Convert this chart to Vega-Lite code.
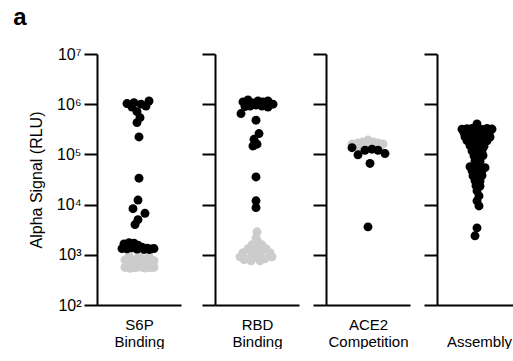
{
  "$schema": "https://vega.github.io/schema/vega-lite/v6.json",
  "padding": {"left": 13, "top": 6, "right": 0, "bottom": 0},
  "title": {"text": "a", "anchor": "start", "frame": "bounds", "fontSize": 24, "fontWeight": "bold", "font": "Liberation Sans", "color": "black", "dx": -15, "offset": 16},
  "config": {
    "font": "Liberation Sans",
    "view": {"stroke": null},
    "axis": {"domainColor": "black", "domainWidth": 2, "tickColor": "black", "tickWidth": 2, "grid": false, "labelColor": "black", "titleColor": "black", "labelFont": "Liberation Sans", "titleFont": "Liberation Sans", "titleFontWeight": "normal"}
  },
  "datasets": {
    "swarm": [
      {"assay": "S6P", "group": "background", "swarm": -14, "rlu": 790},
      {"assay": "S6P", "group": "background", "swarm": -9, "rlu": 780},
      {"assay": "S6P", "group": "background", "swarm": -4, "rlu": 800},
      {"assay": "S6P", "group": "background", "swarm": 1, "rlu": 770},
      {"assay": "S6P", "group": "background", "swarm": 6, "rlu": 810},
      {"assay": "S6P", "group": "background", "swarm": 11, "rlu": 790},
      {"assay": "S6P", "group": "background", "swarm": 15, "rlu": 760},
      {"assay": "S6P", "group": "background", "swarm": -12, "rlu": 660},
      {"assay": "S6P", "group": "background", "swarm": -7, "rlu": 650},
      {"assay": "S6P", "group": "background", "swarm": -2, "rlu": 680},
      {"assay": "S6P", "group": "background", "swarm": 3, "rlu": 640},
      {"assay": "S6P", "group": "background", "swarm": 8, "rlu": 670},
      {"assay": "S6P", "group": "background", "swarm": 13, "rlu": 650},
      {"assay": "S6P", "group": "background", "swarm": -14, "rlu": 560},
      {"assay": "S6P", "group": "background", "swarm": -9, "rlu": 540},
      {"assay": "S6P", "group": "background", "swarm": -4, "rlu": 550},
      {"assay": "S6P", "group": "background", "swarm": 1, "rlu": 570},
      {"assay": "S6P", "group": "background", "swarm": 6, "rlu": 545},
      {"assay": "S6P", "group": "background", "swarm": 11, "rlu": 555},
      {"assay": "S6P", "group": "background", "swarm": 15, "rlu": 560},
      {"assay": "S6P", "group": "background", "swarm": -10, "rlu": 950},
      {"assay": "S6P", "group": "background", "swarm": 0, "rlu": 980},
      {"assay": "S6P", "group": "background", "swarm": 10, "rlu": 940},
      {"assay": "S6P", "group": "hit", "swarm": -15, "rlu": 1650},
      {"assay": "S6P", "group": "hit", "swarm": -10, "rlu": 1750},
      {"assay": "S6P", "group": "hit", "swarm": -5, "rlu": 1700},
      {"assay": "S6P", "group": "hit", "swarm": -1, "rlu": 1550},
      {"assay": "S6P", "group": "hit", "swarm": 3, "rlu": 1420},
      {"assay": "S6P", "group": "hit", "swarm": 8, "rlu": 1350},
      {"assay": "S6P", "group": "hit", "swarm": 12, "rlu": 1300},
      {"assay": "S6P", "group": "hit", "swarm": 15, "rlu": 1330},
      {"assay": "S6P", "group": "hit", "swarm": -17, "rlu": 1330},
      {"assay": "S6P", "group": "hit", "swarm": -12, "rlu": 1320},
      {"assay": "S6P", "group": "hit", "swarm": -7, "rlu": 1380},
      {"assay": "S6P", "group": "hit", "swarm": -2, "rlu": 1300},
      {"assay": "S6P", "group": "hit", "swarm": 5, "rlu": 1280},
      {"assay": "S6P", "group": "hit", "swarm": 10, "rlu": 1280},
      {"assay": "S6P", "group": "hit", "swarm": -1, "rlu": 12300},
      {"assay": "S6P", "group": "hit", "swarm": -6, "rlu": 8300},
      {"assay": "S6P", "group": "hit", "swarm": 6, "rlu": 6700},
      {"assay": "S6P", "group": "hit", "swarm": -1, "rlu": 5000},
      {"assay": "S6P", "group": "hit", "swarm": -4, "rlu": 4000},
      {"assay": "S6P", "group": "hit", "swarm": -12, "rlu": 1030000},
      {"assay": "S6P", "group": "hit", "swarm": -5, "rlu": 1070000},
      {"assay": "S6P", "group": "hit", "swarm": 2, "rlu": 1000000},
      {"assay": "S6P", "group": "hit", "swarm": 10, "rlu": 1160000},
      {"assay": "S6P", "group": "hit", "swarm": 7, "rlu": 920000},
      {"assay": "S6P", "group": "hit", "swarm": -7, "rlu": 880000},
      {"assay": "S6P", "group": "hit", "swarm": -2, "rlu": 710000},
      {"assay": "S6P", "group": "hit", "swarm": 1, "rlu": 540000},
      {"assay": "S6P", "group": "hit", "swarm": -2, "rlu": 430000},
      {"assay": "S6P", "group": "hit", "swarm": 0, "rlu": 223000},
      {"assay": "S6P", "group": "hit", "swarm": 0, "rlu": 33600},

      {"assay": "RBD", "group": "background", "swarm": 0, "rlu": 2870},
      {"assay": "RBD", "group": "background", "swarm": -1, "rlu": 2180},
      {"assay": "RBD", "group": "background", "swarm": 1, "rlu": 1820},
      {"assay": "RBD", "group": "background", "swarm": -5, "rlu": 1580},
      {"assay": "RBD", "group": "background", "swarm": 5, "rlu": 1580},
      {"assay": "RBD", "group": "background", "swarm": -9, "rlu": 1320},
      {"assay": "RBD", "group": "background", "swarm": -1, "rlu": 1350},
      {"assay": "RBD", "group": "background", "swarm": 9, "rlu": 1320},
      {"assay": "RBD", "group": "background", "swarm": -14, "rlu": 1100},
      {"assay": "RBD", "group": "background", "swarm": -5, "rlu": 1120},
      {"assay": "RBD", "group": "background", "swarm": 4, "rlu": 1110},
      {"assay": "RBD", "group": "background", "swarm": 13, "rlu": 1100},
      {"assay": "RBD", "group": "background", "swarm": -17, "rlu": 910},
      {"assay": "RBD", "group": "background", "swarm": -10, "rlu": 830},
      {"assay": "RBD", "group": "background", "swarm": -1, "rlu": 900},
      {"assay": "RBD", "group": "background", "swarm": 8, "rlu": 830},
      {"assay": "RBD", "group": "background", "swarm": 15, "rlu": 910},
      {"assay": "RBD", "group": "background", "swarm": -6, "rlu": 760},
      {"assay": "RBD", "group": "background", "swarm": 3, "rlu": 760},
      {"assay": "RBD", "group": "background", "swarm": -13, "rlu": 800},
      {"assay": "RBD", "group": "hit", "swarm": -14, "rlu": 1110000},
      {"assay": "RBD", "group": "hit", "swarm": -9, "rlu": 1220000},
      {"assay": "RBD", "group": "hit", "swarm": -4, "rlu": 1060000},
      {"assay": "RBD", "group": "hit", "swarm": 1, "rlu": 1160000},
      {"assay": "RBD", "group": "hit", "swarm": 6, "rlu": 1110000},
      {"assay": "RBD", "group": "hit", "swarm": 11, "rlu": 1160000},
      {"assay": "RBD", "group": "hit", "swarm": 16, "rlu": 1000000},
      {"assay": "RBD", "group": "hit", "swarm": -7, "rlu": 920000},
      {"assay": "RBD", "group": "hit", "swarm": -1, "rlu": 960000},
      {"assay": "RBD", "group": "hit", "swarm": 5, "rlu": 920000},
      {"assay": "RBD", "group": "hit", "swarm": 11, "rlu": 880000},
      {"assay": "RBD", "group": "hit", "swarm": -12, "rlu": 900000},
      {"assay": "RBD", "group": "hit", "swarm": -16, "rlu": 650000},
      {"assay": "RBD", "group": "hit", "swarm": -1, "rlu": 480000},
      {"assay": "RBD", "group": "hit", "swarm": 2, "rlu": 260000},
      {"assay": "RBD", "group": "hit", "swarm": -3, "rlu": 200000},
      {"assay": "RBD", "group": "hit", "swarm": 0, "rlu": 160000},
      {"assay": "RBD", "group": "hit", "swarm": -4, "rlu": 147000},
      {"assay": "RBD", "group": "hit", "swarm": -1, "rlu": 35600},
      {"assay": "RBD", "group": "hit", "swarm": -1, "rlu": 11900},
      {"assay": "RBD", "group": "hit", "swarm": -1, "rlu": 8700},

      {"assay": "ACE2", "group": "background", "swarm": -16, "rlu": 162000},
      {"assay": "ACE2", "group": "background", "swarm": -10, "rlu": 168000},
      {"assay": "ACE2", "group": "background", "swarm": -5, "rlu": 177000},
      {"assay": "ACE2", "group": "background", "swarm": 0, "rlu": 193000},
      {"assay": "ACE2", "group": "background", "swarm": 5, "rlu": 177000},
      {"assay": "ACE2", "group": "background", "swarm": 10, "rlu": 168000},
      {"assay": "ACE2", "group": "background", "swarm": 15, "rlu": 162000},
      {"assay": "ACE2", "group": "background", "swarm": -8, "rlu": 141000},
      {"assay": "ACE2", "group": "background", "swarm": 2, "rlu": 145000},
      {"assay": "ACE2", "group": "background", "swarm": 12, "rlu": 141000},
      {"assay": "ACE2", "group": "hit", "swarm": -16, "rlu": 136000},
      {"assay": "ACE2", "group": "hit", "swarm": -10, "rlu": 98000},
      {"assay": "ACE2", "group": "hit", "swarm": -3, "rlu": 121000},
      {"assay": "ACE2", "group": "hit", "swarm": 4, "rlu": 127000},
      {"assay": "ACE2", "group": "hit", "swarm": 10, "rlu": 121000},
      {"assay": "ACE2", "group": "hit", "swarm": 17, "rlu": 104000},
      {"assay": "ACE2", "group": "hit", "swarm": 2, "rlu": 66000},
      {"assay": "ACE2", "group": "hit", "swarm": 0, "rlu": 3600},

      {"assay": "Assembly", "group": "hit", "swarm": -2, "rlu": 405000},
      {"assay": "Assembly", "group": "hit", "swarm": -17, "rlu": 318000},
      {"assay": "Assembly", "group": "hit", "swarm": -12, "rlu": 325000},
      {"assay": "Assembly", "group": "hit", "swarm": -7, "rlu": 330000},
      {"assay": "Assembly", "group": "hit", "swarm": -2, "rlu": 322000},
      {"assay": "Assembly", "group": "hit", "swarm": 3, "rlu": 315000},
      {"assay": "Assembly", "group": "hit", "swarm": 8, "rlu": 328000},
      {"assay": "Assembly", "group": "hit", "swarm": 13, "rlu": 320000},
      {"assay": "Assembly", "group": "hit", "swarm": -15, "rlu": 270000},
      {"assay": "Assembly", "group": "hit", "swarm": -10, "rlu": 262000},
      {"assay": "Assembly", "group": "hit", "swarm": -5, "rlu": 275000},
      {"assay": "Assembly", "group": "hit", "swarm": 0, "rlu": 265000},
      {"assay": "Assembly", "group": "hit", "swarm": 5, "rlu": 268000},
      {"assay": "Assembly", "group": "hit", "swarm": 10, "rlu": 260000},
      {"assay": "Assembly", "group": "hit", "swarm": -14, "rlu": 225000},
      {"assay": "Assembly", "group": "hit", "swarm": -9, "rlu": 220000},
      {"assay": "Assembly", "group": "hit", "swarm": -4, "rlu": 228000},
      {"assay": "Assembly", "group": "hit", "swarm": 1, "rlu": 218000},
      {"assay": "Assembly", "group": "hit", "swarm": 6, "rlu": 224000},
      {"assay": "Assembly", "group": "hit", "swarm": 11, "rlu": 222000},
      {"assay": "Assembly", "group": "hit", "swarm": -12, "rlu": 188000},
      {"assay": "Assembly", "group": "hit", "swarm": -7, "rlu": 184000},
      {"assay": "Assembly", "group": "hit", "swarm": -2, "rlu": 190000},
      {"assay": "Assembly", "group": "hit", "swarm": 3, "rlu": 182000},
      {"assay": "Assembly", "group": "hit", "swarm": 8, "rlu": 186000},
      {"assay": "Assembly", "group": "hit", "swarm": -9, "rlu": 150000},
      {"assay": "Assembly", "group": "hit", "swarm": -4, "rlu": 146000},
      {"assay": "Assembly", "group": "hit", "swarm": 1, "rlu": 149000},
      {"assay": "Assembly", "group": "hit", "swarm": 5, "rlu": 145000},
      {"assay": "Assembly", "group": "hit", "swarm": -7, "rlu": 118000},
      {"assay": "Assembly", "group": "hit", "swarm": -2, "rlu": 115000},
      {"assay": "Assembly", "group": "hit", "swarm": 3, "rlu": 119000},
      {"assay": "Assembly", "group": "hit", "swarm": -5, "rlu": 94000},
      {"assay": "Assembly", "group": "hit", "swarm": 0, "rlu": 92000},
      {"assay": "Assembly", "group": "hit", "swarm": 4, "rlu": 95000},
      {"assay": "Assembly", "group": "hit", "swarm": -4, "rlu": 75000},
      {"assay": "Assembly", "group": "hit", "swarm": 1, "rlu": 73000},
      {"assay": "Assembly", "group": "hit", "swarm": -9, "rlu": 57000},
      {"assay": "Assembly", "group": "hit", "swarm": -4, "rlu": 55000},
      {"assay": "Assembly", "group": "hit", "swarm": 1, "rlu": 56500},
      {"assay": "Assembly", "group": "hit", "swarm": 6, "rlu": 54500},
      {"assay": "Assembly", "group": "hit", "swarm": -7, "rlu": 47500},
      {"assay": "Assembly", "group": "hit", "swarm": -2, "rlu": 46500},
      {"assay": "Assembly", "group": "hit", "swarm": 3, "rlu": 48000},
      {"assay": "Assembly", "group": "hit", "swarm": -6, "rlu": 37500},
      {"assay": "Assembly", "group": "hit", "swarm": -1, "rlu": 37000},
      {"assay": "Assembly", "group": "hit", "swarm": 3, "rlu": 38000},
      {"assay": "Assembly", "group": "hit", "swarm": -4, "rlu": 30000},
      {"assay": "Assembly", "group": "hit", "swarm": 1, "rlu": 29500},
      {"assay": "Assembly", "group": "hit", "swarm": -3, "rlu": 23800},
      {"assay": "Assembly", "group": "hit", "swarm": 1, "rlu": 23400},
      {"assay": "Assembly", "group": "hit", "swarm": -2, "rlu": 18800},
      {"assay": "Assembly", "group": "hit", "swarm": 0, "rlu": 14900},
      {"assay": "Assembly", "group": "hit", "swarm": -2, "rlu": 11900},
      {"assay": "Assembly", "group": "hit", "swarm": 0, "rlu": 9400},
      {"assay": "Assembly", "group": "hit", "swarm": -2, "rlu": 3440},
      {"assay": "Assembly", "group": "hit", "swarm": -4, "rlu": 2390}
    ]
  },
  "spacing": 20,
  "hconcat": [
    {
      "width": 84, "height": 251,
      "data": {"name": "swarm"},
      "transform": [{"filter": "datum.assay === 'S6P'"}],
      "mark": {"type": "circle", "size": 80, "opacity": 1},
      "encoding": {
        "x": {"field": "swarm", "type": "quantitative", "scale": {"domain": [-42, 42], "nice": false}, "axis": {"ticks": false, "labels": false, "title": ["S6P", "Binding"], "titleFontSize": 15, "titleLineHeight": 17, "titlePadding": 12}},
        "y": {"field": "rlu", "type": "quantitative", "scale": {"type": "log", "domain": [100, 10000000], "nice": false}, "axis": {"values": [100, 1000, 10000, 100000, 1000000, 10000000], "tickSize": 13, "labelFontSize": 16, "labelPadding": 3, "labelExpr": "'10' + ['⁰','¹','²','³','⁴','⁵','⁶','⁷'][round(log(datum.value)/LN10)]", "title": "Alpha Signal (RLU)", "titleFontSize": 16, "titlePadding": 12}},
        "color": {"field": "group", "type": "nominal", "scale": {"domain": ["background", "hit"], "range": ["#cccccc", "#000000"]}, "legend": null}
      }
    },
    {
      "spacing": 13,
      "hconcat": [
        {
          "width": 84, "height": 251,
          "data": {"name": "swarm"},
          "transform": [{"filter": "datum.assay === 'RBD'"}],
          "mark": {"type": "circle", "size": 80, "opacity": 1},
          "encoding": {
            "x": {"field": "swarm", "type": "quantitative", "scale": {"domain": [-42, 42], "nice": false}, "axis": {"ticks": false, "labels": false, "title": ["RBD", "Binding"], "titleFontSize": 15, "titleLineHeight": 17, "titlePadding": 12}},
            "y": {"field": "rlu", "type": "quantitative", "scale": {"type": "log", "domain": [100, 10000000], "nice": false}, "axis": {"values": [100, 1000, 10000, 100000, 1000000, 10000000], "tickSize": 13, "labels": false, "title": null}},
            "color": {"field": "group", "type": "nominal", "scale": {"domain": ["background", "hit"], "range": ["#cccccc", "#000000"]}, "legend": null}
          }
        },
        {
          "spacing": 13,
          "hconcat": [
            {
              "width": 84, "height": 251,
              "data": {"name": "swarm"},
              "transform": [{"filter": "datum.assay === 'ACE2'"}],
              "mark": {"type": "circle", "size": 80, "opacity": 1},
              "encoding": {
                "x": {"field": "swarm", "type": "quantitative", "scale": {"domain": [-42, 42], "nice": false}, "axis": {"ticks": false, "labels": false, "title": ["ACE2", "Competition"], "titleFontSize": 15, "titleLineHeight": 17, "titlePadding": 12}},
                "y": {"field": "rlu", "type": "quantitative", "scale": {"type": "log", "domain": [100, 10000000], "nice": false}, "axis": {"values": [100, 1000, 10000, 100000, 1000000, 10000000], "tickSize": 13, "labels": false, "title": null}},
                "color": {"field": "group", "type": "nominal", "scale": {"domain": ["background", "hit"], "range": ["#cccccc", "#000000"]}, "legend": null}
              }
            },
            {
              "width": 84, "height": 251,
              "data": {"name": "swarm"},
              "transform": [{"filter": "datum.assay === 'Assembly'"}],
              "mark": {"type": "circle", "size": 80, "opacity": 1},
              "encoding": {
                "x": {"field": "swarm", "type": "quantitative", "scale": {"domain": [-42, 42], "nice": false}, "axis": {"ticks": false, "labels": false, "title": "Assembly", "titleFontSize": 15, "titlePadding": 29}},
                "y": {"field": "rlu", "type": "quantitative", "scale": {"type": "log", "domain": [100, 10000000], "nice": false}, "axis": {"values": [100, 1000, 10000, 100000, 1000000, 10000000], "tickSize": 13, "labels": false, "title": null}},
                "color": {"field": "group", "type": "nominal", "scale": {"domain": ["background", "hit"], "range": ["#cccccc", "#000000"]}, "legend": null}
              }
            }
          ]
        }
      ]
    }
  ]
}
